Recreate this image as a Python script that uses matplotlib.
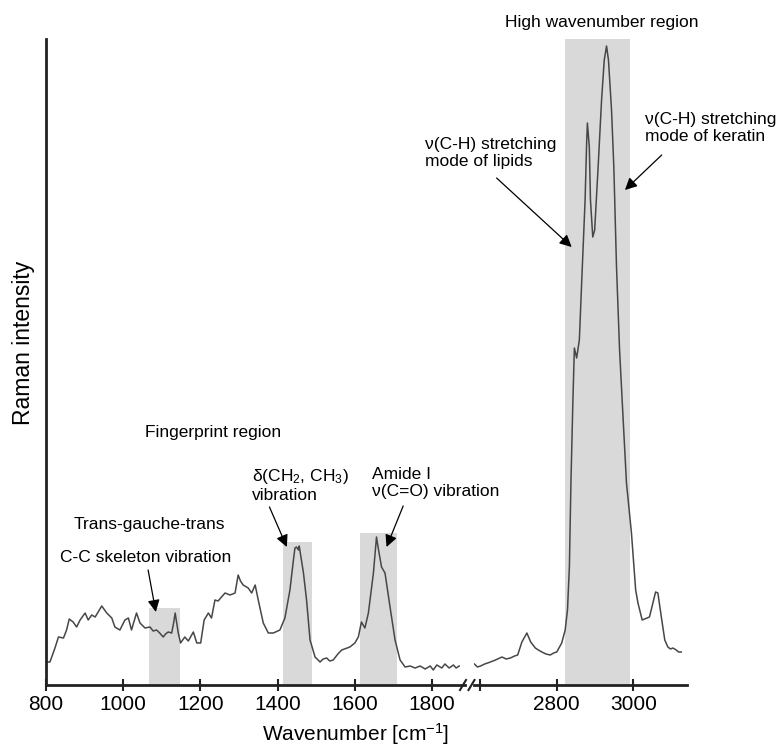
import matplotlib
matplotlib.use("Agg")
import matplotlib.pyplot as plt
from matplotlib.lines import Line2D

plt.rcParams['font.family'] = ['Liberation Sans', 'DejaVu Sans']
plt.rcParams['mathtext.fontset'] = 'custom'
plt.rcParams['mathtext.rm'] = 'Liberation Sans'
plt.rcParams['mathtext.it'] = 'Liberation Sans'

# fingerprint part of the spectrum (arbitrary intensity units)
left_wn = [800, 811, 824, 833, 846, 854, 861, 871, 880, 889, 902, 910, 919, 928, 945,
           958, 971, 979, 992, 1005, 1014, 1022, 1035, 1044, 1057, 1070, 1078, 1087, 1095,
           1104, 1110, 1117, 1126, 1131, 1135, 1143, 1149, 1160, 1169, 1182, 1191, 1201,
           1210, 1221, 1229, 1238, 1246, 1255, 1264, 1277, 1290, 1298, 1304, 1311, 1324,
           1333, 1342, 1350, 1363, 1376, 1389, 1406, 1419, 1432, 1441, 1445, 1449, 1454,
           1456, 1467, 1475, 1484, 1497, 1510, 1518, 1527, 1535, 1544, 1556, 1566, 1587,
           1600, 1609, 1617, 1626, 1635, 1648, 1656, 1660, 1669, 1678, 1691, 1704, 1717,
           1730, 1743, 1756, 1769, 1782, 1795, 1803, 1812, 1825, 1833, 1844, 1855, 1862,
           1870]
left_int = [23, 23, 37, 48, 47, 55, 66, 63, 58, 65, 72, 65, 70, 68, 79,
            72, 67, 58, 55, 65, 67, 55, 72, 62, 57, 58, 54, 55, 52,
            48, 51, 53, 52, 62, 72, 52, 42, 48, 44, 53, 42, 42,
            65, 72, 67, 85, 84, 88, 92, 90, 92, 110, 104, 100, 97,
            92, 100, 85, 62, 52, 52, 55, 67, 95, 125, 137, 138, 135,
            139, 112, 85, 45, 28, 23, 26, 27, 24, 25, 31, 35, 38,
            42, 48, 63, 57, 72, 112, 148, 138, 118, 112, 78, 45, 25,
            18, 19, 17, 19, 16, 19, 15, 20, 17, 21, 17, 20, 17,
            19]

# high wavenumber part
right_wn = [2585, 2593, 2601, 2612, 2627, 2640, 2657, 2668, 2679, 2690, 2698, 2709, 2722,
            2732, 2744, 2752, 2761, 2772, 2783, 2792, 2800, 2813, 2822, 2828, 2833, 2837,
            2842, 2846, 2852, 2859, 2865, 2874, 2878, 2880, 2885, 2888, 2894, 2899, 2908,
            2917, 2924, 2930, 2935, 2943, 2949, 2956, 2964, 2973, 2982, 2995, 3006, 3012,
            3023, 3042, 3051, 3058, 3064, 3073, 3082, 3090, 3097, 3103, 3112, 3118, 3125]
right_int = [21, 18, 19, 21, 23, 25, 28, 26, 27, 29, 30, 43, 52,
             43, 37, 35, 33, 31, 30, 32, 33, 42, 55, 75, 118, 202,
             282, 337, 327, 345, 402, 485, 542, 562, 538, 485, 448, 455, 518,
             585, 625, 639, 625, 575, 518, 418, 335, 268, 202, 152, 95, 82,
             65, 68, 82, 93, 92, 68, 45, 38, 36, 37, 35, 33, 33]

# shaded band regions
band_lo = [1067, 1413, 1613, 2822]
band_hi = [1147, 1488, 1708, 2990]
band_top = [77, 143, 152, 646]

W, H = 779, 747
def fx(x):
    return x / W
def fy(y):
    return 1 - y / H

fig = plt.figure(figsize=(7.79, 7.47), dpi=100)
ax1 = fig.add_axes([fx(45.7), fy(685), fx(465) - fx(45.7), fy(39) - fy(685)])
ax2 = fig.add_axes([fx(474), fy(685), fx(687) - fx(474), fy(39) - fy(685)])

ymax = 646
ax1.set_xlim(800, 1885)
ax2.set_xlim(2584, 3140)
for ax in (ax1, ax2):
    ax.set_ylim(0, ymax)
    ax.set_yticks([])
    ax.patch.set_alpha(0)
    for lo, hi, top in zip(band_lo, band_hi, band_top):
        ax.axvspan(lo, hi, ymin=0, ymax=top / ymax, color='#d9d9d9', lw=0, zorder=0)
    ax.spines['top'].set_visible(False)
    ax.spines['right'].set_visible(False)
    ax.spines['bottom'].set_linewidth(2)
    ax.spines['bottom'].set_color('#222222')
    ax.tick_params(axis='x', direction='inout', length=9, width=1.5, color='#222222',
                   labelsize=15, pad=3)
ax1.spines['left'].set_linewidth(2)
ax1.spines['left'].set_color('#222222')
ax2.spines['left'].set_visible(False)

ax1.plot(left_wn, left_int, color='#474747', lw=1.1)
ax2.plot(right_wn, right_int, color='#474747', lw=1.1)

ax1.set_xticks([800, 1000, 1200, 1400, 1600, 1800])
ax2.set_xticks([2600, 2800, 3000])
ax2.set_xticklabels(['', '2800', '3000'])

# axis break marks
for xc in (463, 471.5):
    fig.add_artist(Line2D([fx(xc - 3), fx(xc + 3)], [fy(690), fy(680)],
                          color='#222222', lw=1.5))

# labels
fig.text(fx(356), fy(734), 'Wavenumber [cm$^{-1}$]', ha='center', va='center', fontsize=15)
fig.text(fx(24), fy(343), 'Raman intensity', ha='center', va='center', fontsize=16.5,
         rotation=90)

fs = 12.5
fig.text(fx(602), fy(22), 'High wavenumber region', ha='center', va='center', fontsize=fs)
fig.text(fx(425), fy(153), 'ν(C-H) stretching\nmode of lipids', ha='left', va='center',
         fontsize=fs)
fig.text(fx(645), fy(128), 'ν(C-H) stretching\nmode of keratin', ha='left', va='center',
         fontsize=fs)
fig.text(fx(213), fy(432), 'Fingerprint region', ha='center', va='center', fontsize=fs)
fig.text(fx(149), fy(525), 'Trans-gauche-trans', ha='center', va='center', fontsize=fs)
fig.text(fx(146), fy(557), 'C-C skeleton vibration', ha='center', va='center', fontsize=fs)
fig.text(fx(252), fy(485), 'δ(CH$_2$, CH$_3$)\nvibration', ha='left', va='center',
         fontsize=fs)
fig.text(fx(372), fy(483), 'Amide I\nν(C=O) vibration', ha='left', va='center', fontsize=fs)

arrow = dict(arrowstyle='-|>', color='black', lw=0.9, mutation_scale=18,
             shrinkA=0, shrinkB=0)
ax1.annotate('', xy=(1085, 73), xytext=(1065, 115), arrowprops=arrow)
ax1.annotate('', xy=(1424, 138), xytext=(1379, 178), arrowprops=arrow)
ax1.annotate('', xy=(1682, 138), xytext=(1725, 179), arrowprops=arrow)
ax2.annotate('', xy=(2839, 438), xytext=(2643, 507), arrowprops=arrow)
ax2.annotate('', xy=(2978, 495), xytext=(3074, 530), arrowprops=arrow)

fig.savefig('out.png', dpi=100)
